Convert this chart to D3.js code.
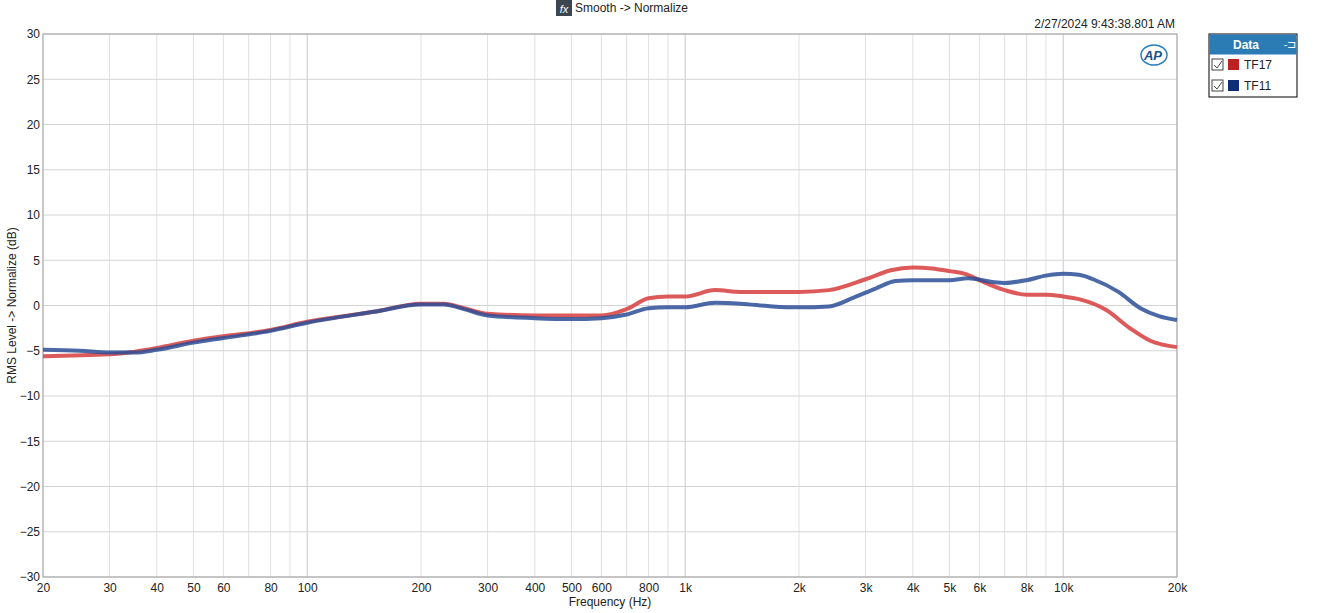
<!DOCTYPE html>
<html><head><meta charset="utf-8">
<script src="https://cdn.jsdelivr.net/npm/d3@7"></script>
<style>body{margin:0;background:#fff;font-family:"Liberation Sans",Arial,sans-serif;}</style>
</head><body><svg id="c" width="1331" height="613"></svg>
<script>
const xTicks = [20,30,40,50,60,80,100,200,300,400,500,600,800,1000,2000,3000,4000,5000,6000,8000,10000,20000];
const xTickLabels = ["20","30","40","50","60","80","100","200","300","400","500","600","800","1k","2k","3k","4k","5k","6k","8k","10k","20k"];
const yTicks = d3.range(-30, 31, 5);
const redFreq = [20,30,35,40,50,60,80,100,150,200,230,260,300,400,600,700,800,900,1000,1200,1400,2000,2400,3000,3500,4000,4500,5000,5500,6000,7000,8000,9000,10000,11000,13000,15000,17000,20000];
const redDb = [-5.6,-5.4,-5.1,-4.7,-3.9,-3.4,-2.7,-1.8,-0.7,0.2,0.2,-0.3,-0.9,-1.1,-1.1,-0.4,0.8,1.0,1.0,1.7,1.5,1.5,1.7,2.9,3.9,4.2,4.1,3.8,3.5,2.8,1.7,1.2,1.2,1.0,0.7,-0.5,-2.5,-3.9,-4.6];
const blueFreq = [20,25,30,35,40,50,60,80,100,150,200,230,260,300,400,500,600,700,800,900,1000,1200,1400,1700,2000,2400,2800,3200,3600,4000,5000,5600,6500,7000,8000,9000,10000,11000,12000,14000,16000,18000,20000];
const blueDb = [-4.9,-5.0,-5.2,-5.2,-4.9,-4.1,-3.6,-2.8,-1.9,-0.7,0.1,0.1,-0.4,-1.1,-1.4,-1.5,-1.4,-1.0,-0.3,-0.2,-0.2,0.3,0.2,-0.1,-0.2,-0.1,0.9,1.9,2.7,2.8,2.8,3.0,2.6,2.5,2.8,3.3,3.5,3.4,2.9,1.5,-0.3,-1.2,-1.6];

const svg = d3.select("#c");
const L = 43, R = 1177, T = 34, B = 577;
const x = d3.scaleLog().domain([20,20000]).range([L,R]);
const y = d3.scaleLinear().domain([-30,30]).range([B,T]);

// grid: minor log lines
const minor = [];
[10,100,1000,10000].forEach(d => { for (let k=1;k<10;k++){ const f=d*k; if(f>=20&&f<=20000) minor.push(f);} });
svg.append("g").selectAll("line").data(minor).join("line")
  .attr("x1",d=>x(d)).attr("x2",d=>x(d)).attr("y1",T).attr("y2",B)
  .attr("stroke",d=>[100,1000,10000].includes(d)?"#c8c8c8":"#e0e0e0").attr("stroke-width",1);
svg.append("g").selectAll("line").data(yTicks).join("line")
  .attr("x1",L).attr("x2",R).attr("y1",d=>y(d)).attr("y2",d=>y(d))
  .attr("stroke","#d4d4d4");
svg.append("rect").attr("x",L).attr("y",T).attr("width",R-L).attr("height",B-T)
  .attr("fill","none").attr("stroke","#a0a0a0");

const xa = svg.append("g").attr("transform",`translate(0,${B})`)
  .call(d3.axisBottom(x).tickValues(xTicks).tickFormat((d,i)=>xTickLabels[i]).tickSize(0).tickPadding(6));
xa.select(".domain").remove();
const ya = svg.append("g").attr("transform",`translate(${L},0)`)
  .call(d3.axisLeft(y).tickValues(yTicks).tickSize(0).tickPadding(3));
ya.select(".domain").remove();
svg.selectAll(".tick text").attr("font-size",12).attr("fill","#222").attr("font-family","Liberation Sans, Arial");

svg.append("text").attr("x",(L+R)/2).attr("y",606).attr("text-anchor","middle").attr("font-size",12).attr("fill","#222").text("Frequency (Hz)");
svg.append("text").attr("transform",`translate(16,${(T+B)/2}) rotate(-90)`).attr("text-anchor","middle").attr("font-size",12).attr("fill","#222").text("RMS Level -> Normalize (dB)");
svg.append("text").attr("x",1175).attr("y",28).attr("text-anchor","end").attr("font-size",12).attr("fill","#222").text("2/27/2024 9:43:38.801 AM");
// title
svg.append("rect").attr("x",556).attr("y",0).attr("width",16).attr("height",16).attr("fill","#3c4650");
svg.append("text").attr("x",564).attr("y",13).attr("text-anchor","middle").attr("font-size",11).attr("font-style","italic").attr("fill","#fff").text("fx");
svg.append("text").attr("x",575).attr("y",12).attr("font-size",12).attr("fill","#222").text("Smooth -> Normalize");
// AP logo
svg.append("ellipse").attr("cx",1154).attr("cy",55).attr("rx",13).attr("ry",10).attr("fill","none").attr("stroke","#2a7fc0").attr("stroke-width",1.5);
svg.append("text").attr("x",1153).attr("y",60).attr("text-anchor","middle").attr("font-size",13).attr("font-weight","bold").attr("font-style","italic").attr("fill","#1a4f8f").text("AP");

const line = d3.line().x(d=>x(d[0])).y(d=>y(d[1])).curve(d3.curveMonotoneX);
svg.append("path").datum(d3.zip(redFreq,redDb)).attr("d",line).attr("fill","none").attr("stroke","#d84848").attr("stroke-opacity",0.9).attr("stroke-width",4);
svg.append("path").datum(d3.zip(blueFreq,blueDb)).attr("d",line).attr("fill","none").attr("stroke","#2d4f98").attr("stroke-opacity",0.85).attr("stroke-width",4);

// legend
const lg = svg.append("g").attr("transform","translate(1209,34)");
lg.append("rect").attr("width",88).attr("height",63).attr("fill","#fff").attr("stroke","#000");
lg.append("rect").attr("x",0.5).attr("y",0.5).attr("width",87).attr("height",20).attr("fill","#2b7bb5");
lg.append("text").attr("x",37).attr("y",15).attr("text-anchor","middle").attr("font-size",12).attr("font-weight","bold").attr("fill","#fff").text("Data");
lg.append("text").attr("x",81).attr("y",14).attr("text-anchor","middle").attr("font-size",11).attr("fill","#fff").text("-⊐");
[["TF17","#c0201f"],["TF11","#0d2d78"]].forEach((s,i)=>{
  const gy = 23 + i*21;
  lg.append("rect").attr("x",3).attr("y",gy+2).attr("width",11).attr("height",11).attr("fill","#fff").attr("stroke","#444");
  lg.append("path").attr("d",`M5,${gy+8} L8,${gy+11} L13,${gy+4}`).attr("fill","none").attr("stroke","#444");
  lg.append("rect").attr("x",19).attr("y",gy+2).attr("width",11).attr("height",11).attr("fill",s[1]);
  lg.append("text").attr("x",35).attr("y",gy+12).attr("font-size",12).attr("fill","#222").text(s[0]);
});
</script></body></html>
